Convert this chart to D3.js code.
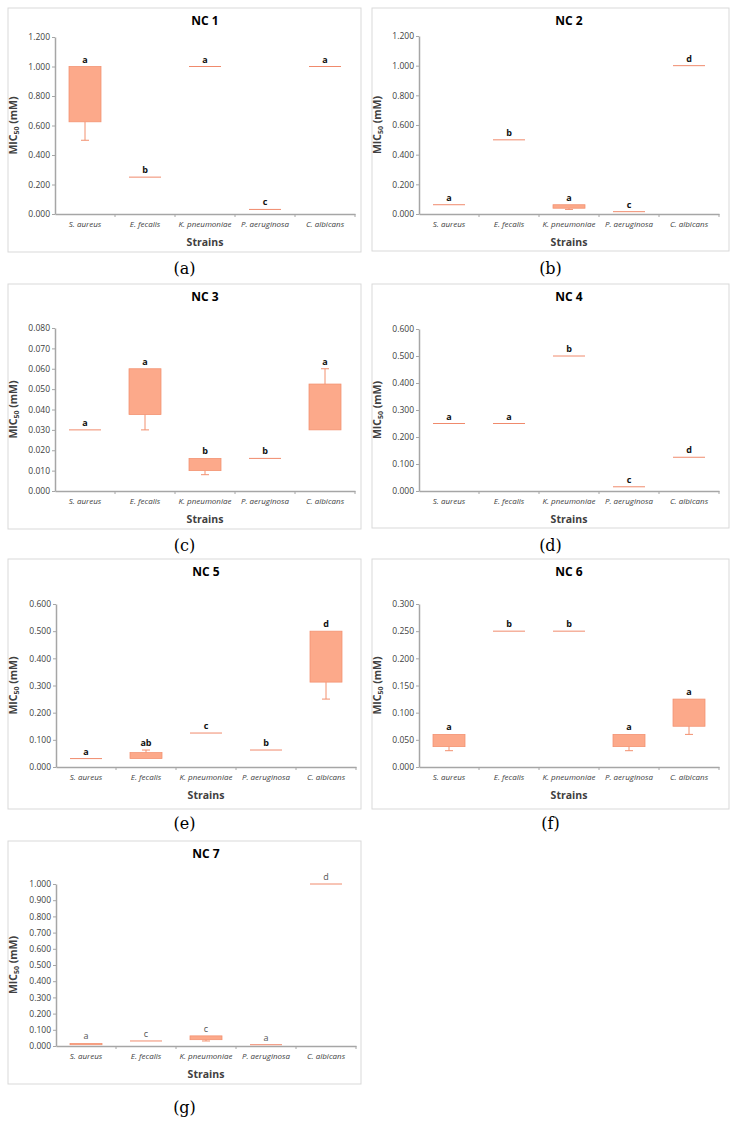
<!DOCTYPE html>
<html>
<head>
<meta charset="utf-8">
<script src="https://cdn.jsdelivr.net/npm/d3@7"></script>
<style>
  body { margin: 0; background: #fff; }
  svg { display: block; }
</style>
</head>
<body>
<svg id="fig" width="733" height="1122"></svg>
<script>
// strains on the x axis
const strains = ['S. aureus', 'E. fecalis', 'K. pneumoniae', 'P. aeruginosa', 'C. albicans'];

// each strain: [min, q1, q3, max]  (MIC50, mM)
const nc1 = [[0.5, 0.625, 1, 1], [0.25, 0.25, 0.25, 0.25], [1, 1, 1, 1], [0.031, 0.031, 0.031, 0.031], [1, 1, 1, 1]];
const nc2 = [[0.0625, 0.0625, 0.0625, 0.0625], [0.5, 0.5, 0.5, 0.5], [0.031, 0.039, 0.0625, 0.0625], [0.0156, 0.0156, 0.0156, 0.0156], [1, 1, 1, 1]];
const nc3 = [[0.03, 0.03, 0.03, 0.03], [0.03, 0.0375, 0.06, 0.06], [0.008, 0.01, 0.016, 0.016], [0.016, 0.016, 0.016, 0.016], [0.03, 0.03, 0.0525, 0.06]];
const nc4 = [[0.25, 0.25, 0.25, 0.25], [0.25, 0.25, 0.25, 0.25], [0.5, 0.5, 0.5, 0.5], [0.0156, 0.0156, 0.0156, 0.0156], [0.125, 0.125, 0.125, 0.125]];
const nc5 = [[0.031, 0.031, 0.031, 0.031], [0.031, 0.031, 0.053, 0.0625], [0.125, 0.125, 0.125, 0.125], [0.0625, 0.0625, 0.0625, 0.0625], [0.25, 0.3125, 0.5, 0.5]];
const nc6 = [[0.03, 0.0375, 0.06, 0.06], [0.25, 0.25, 0.25, 0.25], [0.25, 0.25, 0.25, 0.25], [0.03, 0.0375, 0.06, 0.06], [0.06, 0.075, 0.125, 0.125]];
const nc7 = [[0.008, 0.008, 0.016, 0.016], [0.031, 0.031, 0.031, 0.031], [0.031, 0.039, 0.0625, 0.0625], [0.008, 0.008, 0.008, 0.008], [1, 1, 1, 1]];

// significance letters
const letters1 = ['a', 'b', 'a', 'c', 'a'];
const letters2 = ['a', 'b', 'a', 'c', 'd'];
const letters3 = ['a', 'a', 'b', 'b', 'a'];
const letters4 = ['a', 'a', 'b', 'c', 'd'];
const letters5 = ['a', 'ab', 'c', 'b', 'd'];
const letters6 = ['a', 'b', 'b', 'a', 'a'];
const letters7 = ['a', 'c', 'c', 'a', 'd'];

// y axis: max and step
const yMax = [1.2, 1.2, 0.08, 0.6, 0.6, 0.3, 1.0];
const yStep = [0.2, 0.2, 0.01, 0.1, 0.1, 0.05, 0.1];
const titles = ['NC 1', 'NC 2', 'NC 3', 'NC 4', 'NC 5', 'NC 6', 'NC 7'];
const captions = ['(a)', '(b)', '(c)', '(d)', '(e)', '(f)', '(g)'];

const sets = [nc1, nc2, nc3, nc4, nc5, nc6, nc7];
const letterSets = [letters1, letters2, letters3, letters4, letters5, letters6, letters7];

// panel frames and plot areas (pixels)
const layout = [
  {fx: 8,   fy: 8,   fw: 353, fh: 244, px: 55,  pt: 37,  pb: 214, cap: 274},
  {fx: 372, fy: 8,   fw: 357, fh: 243, px: 419, pt: 36,  pb: 214, cap: 274},
  {fx: 8,   fy: 284, fw: 353, fh: 245, px: 55,  pt: 328, pb: 491, cap: 551},
  {fx: 372, fy: 284, fw: 357, fh: 244, px: 419, pt: 329, pb: 491, cap: 551},
  {fx: 8,   fy: 559, fw: 353, fh: 250, px: 56,  pt: 604, pb: 767, cap: 829},
  {fx: 372, fy: 559, fw: 357, fh: 250, px: 419, pt: 604, pb: 767, cap: 829},
  {fx: 8,   fy: 841, fw: 353, fh: 243, px: 56,  pt: 884, pb: 1046, cap: 1113}
];
const plotW = 300;

const boxFill = '#fca98a', boxStroke = '#f2906f', axisCol = '#a6a6a6', txt = '#404040';
const font = '"Open Sans", sans-serif';

const svg = d3.select('#fig');

function drawPanel(i) {
  const L = layout[i], data = sets[i], lets = letterSets[i];
  const g = svg.append('g');

  g.append('rect')
    .attr('x', L.fx).attr('y', L.fy).attr('width', L.fw).attr('height', L.fh)
    .attr('fill', '#fff').attr('stroke', '#d9d9d9').attr('stroke-width', 1);

  g.append('text')
    .attr('x', L.px + plotW / 2).attr('y', L.fy + 17)
    .attr('text-anchor', 'middle').attr('font-family', font)
    .attr('font-weight', 'bold').attr('font-size', 12).attr('fill', '#000')
    .text(titles[i]);

  const x = d3.scaleBand().domain(strains).range([L.px, L.px + plotW]);
  const y = d3.scaleLinear().domain([0, yMax[i]]).range([L.pb, L.pt]);

  const ticks = d3.range(0, Math.round(yMax[i] / yStep[i]) + 1).map(k => k * yStep[i]);
  const yAxis = g.append('g').attr('transform', `translate(${L.px},0)`)
    .call(d3.axisLeft(y).tickValues(ticks).tickFormat(d3.format('.3f')).tickSize(3).tickSizeOuter(0));
  yAxis.select('.domain').attr('stroke', axisCol).attr('stroke-width', 1.5);
  yAxis.selectAll('.tick line').attr('stroke', axisCol);
  yAxis.selectAll('.tick text').attr('font-family', font).attr('font-size', 8.5)
    .attr('fill', txt).attr('x', -5);

  const xAxis = g.append('g').attr('transform', `translate(0,${L.pb})`)
    .call(d3.axisBottom(x).tickSize(0).tickSizeOuter(0));
  xAxis.select('.domain').attr('stroke', axisCol).attr('stroke-width', 1.5);
  xAxis.selectAll('.tick line').remove();
  xAxis.selectAll('.tick text').attr('font-family', font).attr('font-size', 8)
    .attr('font-style', 'italic').attr('fill', txt).attr('dy', '0.71em').attr('y', 7);
  // boundary ticks between categories
  xAxis.selectAll('.bound').data(strains.slice(1).concat(['end']))
    .join('line').attr('class', 'bound')
    .attr('x1', (d, k) => L.px + x.step() * (k + 1)).attr('x2', (d, k) => L.px + x.step() * (k + 1))
    .attr('y1', 0).attr('y2', 3).attr('stroke', axisCol);

  g.append('text')
    .attr('x', L.px + plotW / 2).attr('y', L.pb + 32)
    .attr('text-anchor', 'middle').attr('font-family', font)
    .attr('font-weight', 'bold').attr('font-size', 10.5).attr('fill', txt)
    .text('Strains');

  const yl = g.append('text')
    .attr('transform', `translate(${L.fx + 9},${(L.pt + L.pb) / 2}) rotate(-90)`)
    .attr('text-anchor', 'middle').attr('font-family', font)
    .attr('font-weight', 'bold').attr('font-size', 10.5).attr('fill', txt);
  yl.append('tspan').text('MIC');
  yl.append('tspan').attr('font-size', 7).attr('dy', 2).text('50');
  yl.append('tspan').attr('dy', -2).text(' (mM)');

  const bw = 32, cap = 4;
  const items = data.map((d, k) => ({s: strains[k], min: d[0], q1: d[1], q3: d[2], max: d[3], l: lets[k]}));
  const it = g.selectAll('.item').data(items).join('g').attr('class', 'item');
  const cx = d => x(d.s) + x.bandwidth() / 2;

  // whiskers
  it.filter(d => d.min < d.q1).append('line')
    .attr('x1', cx).attr('x2', cx).attr('y1', d => y(d.q1)).attr('y2', d => y(d.min))
    .attr('stroke', boxStroke);
  it.filter(d => d.min < d.q1).append('line')
    .attr('x1', d => cx(d) - cap).attr('x2', d => cx(d) + cap)
    .attr('y1', d => y(d.min)).attr('y2', d => y(d.min)).attr('stroke', boxStroke);
  it.filter(d => d.max > d.q3).append('line')
    .attr('x1', cx).attr('x2', cx).attr('y1', d => y(d.q3)).attr('y2', d => y(d.max))
    .attr('stroke', boxStroke);
  it.filter(d => d.max > d.q3).append('line')
    .attr('x1', d => cx(d) - cap).attr('x2', d => cx(d) + cap)
    .attr('y1', d => y(d.max)).attr('y2', d => y(d.max)).attr('stroke', boxStroke);

  // boxes (or a flat line when all replicates agree)
  it.filter(d => d.q3 > d.q1).append('rect')
    .attr('x', d => cx(d) - bw / 2).attr('width', bw)
    .attr('y', d => y(d.q3)).attr('height', d => y(d.q1) - y(d.q3))
    .attr('fill', boxFill).attr('stroke', boxStroke).attr('stroke-width', 0.75);
  it.filter(d => d.q3 === d.q1).append('line')
    .attr('x1', d => cx(d) - bw / 2).attr('x2', d => cx(d) + bw / 2)
    .attr('y1', d => y(d.q3)).attr('y2', d => y(d.q3))
    .attr('stroke', '#f08a6c').attr('stroke-width', 1);

  it.append('text')
    .attr('x', cx).attr('y', d => y(d.max) - 4)
    .attr('text-anchor', 'middle').attr('font-family', font)
    .attr('font-weight', i === 6 ? 'normal' : 'bold').attr('font-size', 9)
    .attr('fill', i === 6 ? '#555' : '#111')
    .text(d => d.l);

  svg.append('text')
    .attr('x', L.fx + L.fw / 2).attr('y', L.cap)
    .attr('text-anchor', 'middle').attr('font-family', '"DejaVu Serif", serif')
    .attr('font-size', 16).attr('fill', '#000')
    .text(captions[i]);
}

d3.range(7).forEach(drawPanel);
</script>
</body>
</html>
